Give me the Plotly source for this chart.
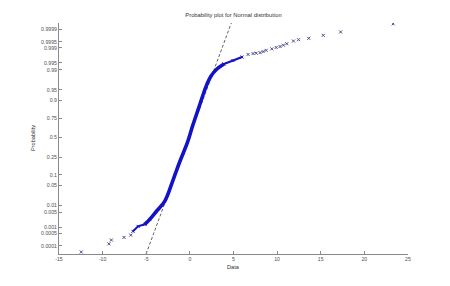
import plotly.graph_objects as go
from statistics import NormalDist

nd = NormalDist()

# ---- data ----
# lower sparse tail (data value, plotting probability)
low_x = [-12.45, -9.28, -9.00, -7.55, -6.78]
low_p = [4.25e-5, 1.31e-4, 2.16e-4, 3.02e-4, 4.04e-4]

# dense body of the sample
body_x = [-6.52, -5.94, -5.17, -4.60, -3.83, -2.87, -1.92, -1.15, -0.31, 0.34,
          1.03, 1.61, 1.95, 2.41, 3.07, 3.91, 4.94, 5.98]
body_p = [6.4e-4, 1.14e-3, 1.44e-3, 2.48e-3, 5.7e-3, 0.0146, 0.0735, 0.206, 0.425, 0.666,
          0.851, 0.9406, 0.9664, 0.9826, 0.9906, 0.9943, 0.99598, 0.99720]

# upper sparse tail
high_x = [6.67, 7.24, 7.60, 8.05, 8.40, 8.74, 9.39, 9.89, 10.34, 10.72, 11.11,
          11.87, 12.45, 13.62, 15.29, 17.28, 23.30]
high_p = [0.99788, 0.99807, 0.99815, 0.99825, 0.99845, 0.99865, 0.99886, 0.99903,
          0.99913, 0.99926, 0.99938, 0.99955, 0.99962, 0.99968, 0.99978, 0.99986, 0.999954]

# fitted reference line (mean, sigma)
fit_mu = -0.10
fit_sigma = 1.23

# axis ticks
x_ticks = [-15, -10, -5, 0, 5, 10, 15, 20, 25]
prob_ticks = [0.0001, 0.0005, 0.001, 0.005, 0.01, 0.05, 0.1, 0.25, 0.5,
              0.75, 0.9, 0.95, 0.99, 0.995, 0.999, 0.9995, 0.9999]
prob_labels = ["0.0001", "0.0005", "0.001", "0.005", "0.01", "0.05", "0.1", "0.25", "0.5",
               "0.75", "0.9", "0.95", "0.99", "0.995", "0.999", "0.9995", "0.9999"]

z_range = [-4.0, 3.94]


def q(ps):
    return [nd.inv_cdf(p) for p in ps]


font_family = "Liberation Sans, Arial, sans-serif"
blue = "#1212c8"
mk_col = "#48488e"

fig = go.Figure()

# reference line
fig.add_trace(go.Scatter(
    x=[fit_mu + fit_sigma * z_range[0], fit_mu + fit_sigma * z_range[1]],
    y=z_range, mode="lines",
    line=dict(color="#606060", width=1, dash="3px,2px"),
    hoverinfo="skip", showlegend=False))

# dense body: thin ends, thick core
fig.add_trace(go.Scatter(
    x=body_x[:4], y=q(body_p[:4]), mode="lines+markers",
    line=dict(color=blue, width=2),
    marker=dict(symbol="x-thin", size=3, line=dict(color=blue, width=1)),
    showlegend=False))
fig.add_trace(go.Scatter(
    x=body_x[2:16], y=q(body_p[2:16]), mode="lines",
    line=dict(color=blue, width=3.6, shape="spline"),
    showlegend=False))
fig.add_trace(go.Scatter(
    x=body_x[15:], y=q(body_p[15:]), mode="lines+markers",
    line=dict(color=blue, width=2.2),
    marker=dict(symbol="x-thin", size=3, line=dict(color=blue, width=1)),
    showlegend=False))

# sparse tails
for xs, ps in ((low_x, low_p), (high_x, high_p)):
    fig.add_trace(go.Scatter(
        x=xs, y=q(ps), mode="markers",
        marker=dict(symbol="x-thin", size=3, line=dict(color=mk_col, width=1)),
        showlegend=False))

axis_common = dict(
    showline=True, linecolor="#8a8a8a", linewidth=1,
    ticks="inside", ticklen=3, tickcolor="#8a8a8a", tickwidth=1,
    showgrid=False, zeroline=False, mirror=False,
    tickfont=dict(family=font_family, size=5.2, color="#505050"),
)

# page body adds an 8px offset, so the figure is sized/margined to compensate
W, H = 442, 278
fig.update_layout(
    width=W, height=H,
    margin=dict(l=51, r=42, t=15, b=32, pad=0),
    paper_bgcolor="white", plot_bgcolor="white",
    title=dict(text="Probability plot for Normal distribution",
               x=0.5, xref="paper", xanchor="center",
               y=1 - 7 / H, yref="container", yanchor="middle",
               font=dict(family=font_family, size=5.8, color="#303030")),
    xaxis=dict(range=[-15, 25], tickvals=x_ticks,
               ticktext=[str(v) for v in x_ticks], **axis_common),
    yaxis=dict(range=z_range, tickvals=q(prob_ticks), ticktext=prob_labels,
               **axis_common),
    annotations=[
        dict(text="Data", x=0.5, y=0, xref="paper", yref="paper",
             xanchor="center", yanchor="middle", yshift=-12.5, showarrow=False,
             font=dict(family=font_family, size=5.6, color="#303030")),
        dict(text="Probability", x=0, y=0.5, xref="paper", yref="paper",
             xanchor="center", yanchor="middle", xshift=-26.5, textangle=-90,
             showarrow=False,
             font=dict(family=font_family, size=5.6, color="#303030")),
    ],
)

fig.write_html("out.html")
